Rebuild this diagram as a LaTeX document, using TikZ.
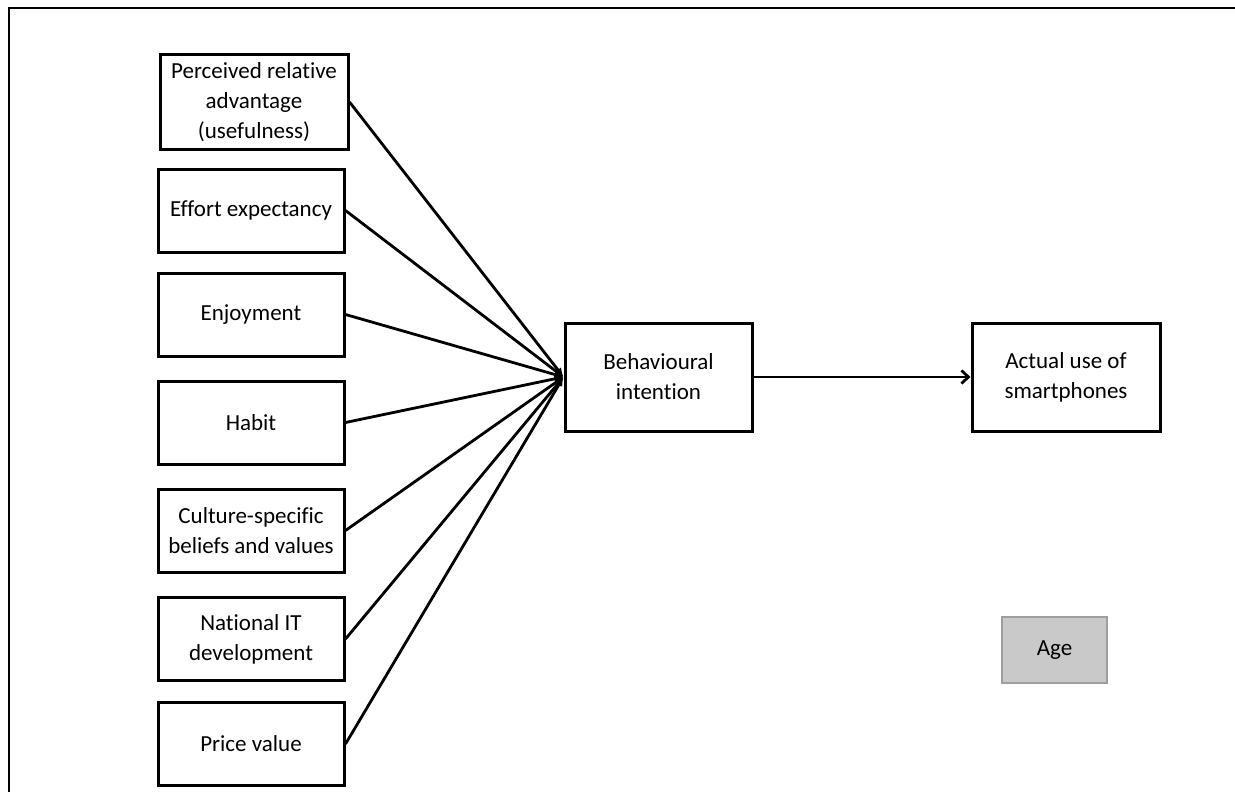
\documentclass[tikz,border=0pt]{standalone}
\usepackage{fontspec}
\setmainfont{Carlito}[Ligatures=CommonOff]
\usetikzlibrary{arrows.meta}

\definecolor{ageFill}{HTML}{C9C9C9}
\definecolor{ageLine}{HTML}{9E9E9E}

\begin{document}
\begin{tikzpicture}[
        x=1pt, y=-1pt,
        factor/.style={
            rectangle,
            draw,
            line width=3pt,
            minimum width=186pt,
            minimum height=83pt,
            align=center,
            inner sep=1pt
        },
        outcome/.style={
            factor,
            minimum width=187pt,
            minimum height=108pt
        },
        moderator/.style={
            rectangle,
            draw=ageLine,
            fill=ageFill,
            line width=2.6pt,
            minimum width=105pt,
            minimum height=66pt
        },
        link/.style={line width=2.8pt, -{Latex[length=9pt,width=8pt]}},
        mainlink/.style={line width=2.8pt, -{Straight Barb[length=7pt,width=13pt]}},
        every node/.style={font=\fontsize{23}{30}\selectfont}
    ]

    \useasboundingbox (0,0) rectangle (1235,792);
    \draw[line width=2.4pt] (1235,8) -- (9,8) -- (9,792);

    \node[factor, minimum width=188pt, minimum height=94pt] (pra) at (254,102)
        {Perceived relative\\advantage\\(usefulness)};
    \node[factor] (ee) at (251,210.5) {Effort expectancy};
    \node[factor] (enj) at (251,314.5) {Enjoyment};
    \node[factor] (hab) at (251,422.5) {Habit};
    \node[factor] (csb) at (251,530.5) {Culture-specific\\beliefs and values};
    \node[factor] (nit) at (251,639) {National IT\\development};
    \node[factor] (pv) at (251,744) {Price value};

    \node[outcome] (bi) at (658.5,377) {Behavioural\\intention};
    \node[outcome, minimum width=188pt] (use) at (1066,377) {Actual use of\\smartphones};

    \node[moderator] (age) at (1054.5,650) {Age};

    \draw[link] (pra.east) -- (bi.west);
    \draw[link] (ee.east) -- (bi.west);
    \draw[link] (enj.east) -- (bi.west);
    \draw[link] (hab.east) -- (bi.west);
    \draw[link] (csb.east) -- (bi.west);
    \draw[link] (nit.east) -- (bi.west);
    \draw[link] (pv.east) -- (bi.west);

    \draw[mainlink] (bi) -- (use);

\end{tikzpicture}
\end{document}
